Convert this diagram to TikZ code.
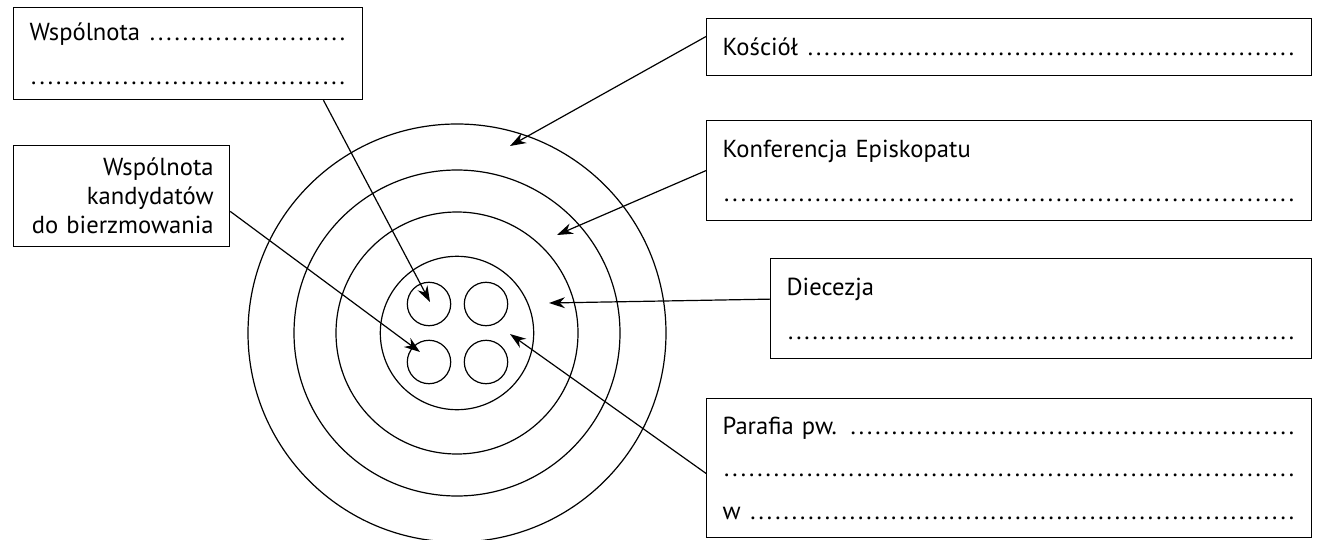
\documentclass[tikz,border=0pt]{standalone}
\usepackage{fontspec}
\setmainfont{PT Sans}
\usetikzlibrary{arrows.meta}
\newcommand{\dotline}{\leavevmode\xleaders\hbox to 4.1pt{\hss.\hss}\hskip 0pt plus 1fill\null}
\tikzset{
  box/.style={draw, line width=0.6pt, anchor=north west, inner xsep=8pt, inner ysep=0pt, align=left},
  ring/.style={draw, circle, line width=0.6pt, inner sep=0pt},
  arrow/.style={line width=0.6pt, -{Stealth[length=8pt, width=5.5pt]}},
}

\begin{document}
\begin{tikzpicture}[x=0.5pt, y=-0.5pt]
        \useasboundingbox (0,0) rectangle (1317,540);

        % the labels round the picture
        \node[box, minimum width=174.5pt, minimum height=46pt, text width=158.5pt,
              font=\fontsize{12.3}{22}\selectfont] (wsp) at (13,7)
              {Wspólnota \dotline\\\dotline};
        \node[box, minimum width=108pt, minimum height=50.5pt, text width=92pt, align=right,
              font=\fontsize{12.3}{14.5}\selectfont] (kand) at (13,145)
              {Wspólnota\\kandydatów\\do bierzmowania};
        \node[box, minimum width=302.5pt, minimum height=28.5pt, text width=286.5pt,
              font=\fontsize{12.3}{22}\selectfont] (kos) at (706,18)
              {Kościół \dotline};
        \node[box, minimum width=302.5pt, minimum height=50pt, text width=286.5pt,
              font=\fontsize{12.3}{22}\selectfont] (konf) at (706,120)
              {Konferencja Episkopatu\\\dotline};
        \node[box, minimum width=270.5pt, minimum height=50pt, text width=254.5pt,
              font=\fontsize{12.3}{22}\selectfont] (diec) at (770,258)
              {Diecezja\\\dotline};
        \node[box, minimum width=302.5pt, minimum height=69.5pt, text width=286.5pt,
              font=\fontsize{12.3}{21.25}\selectfont] (par) at (706,398)
              {Parafia pw. \dotline\\\dotline\\w \dotline};

        % the rings
        \node[ring, minimum size=209pt] (kosRing) at (457,333) {};
        \node[ring, minimum size=163pt] (konfRing) at (457,333) {};
        \node[ring, minimum size=121pt] (diecRing) at (457,333) {};
        \node[ring, minimum size=76.7pt] (parRing) at (457,333) {};
        \node[ring, minimum size=21.7pt] (wspA) at (429,304) {};
        \node[ring, minimum size=21.7pt] (wspB) at (486,304) {};
        \node[ring, minimum size=21.7pt] (wspC) at (429,362) {};
        \node[ring, minimum size=21.7pt] (wspD) at (486,362) {};

        % where the arrows end
        \coordinate (tWsp) at (430,302);
        \coordinate (tKand) at (420,352);
        \coordinate (tKos) at (510,146);
        \coordinate (tKonf) at (557,235);
        \coordinate (tDiec) at (549,303);
        \coordinate (tPar) at (510,334);

        \draw[arrow] (wsp.-19.4) -- (tWsp);
        \draw[arrow] (kand.-8.7) -- (tKand);
        \draw[arrow] (kos.178.8) -- (tKos);
        \draw[arrow] (konf.west) -- (tKonf);
        \draw[arrow] (diec.178.9) -- (tDiec);
        \draw[arrow] (par.181) -- (tPar);
\end{tikzpicture}
\end{document}
